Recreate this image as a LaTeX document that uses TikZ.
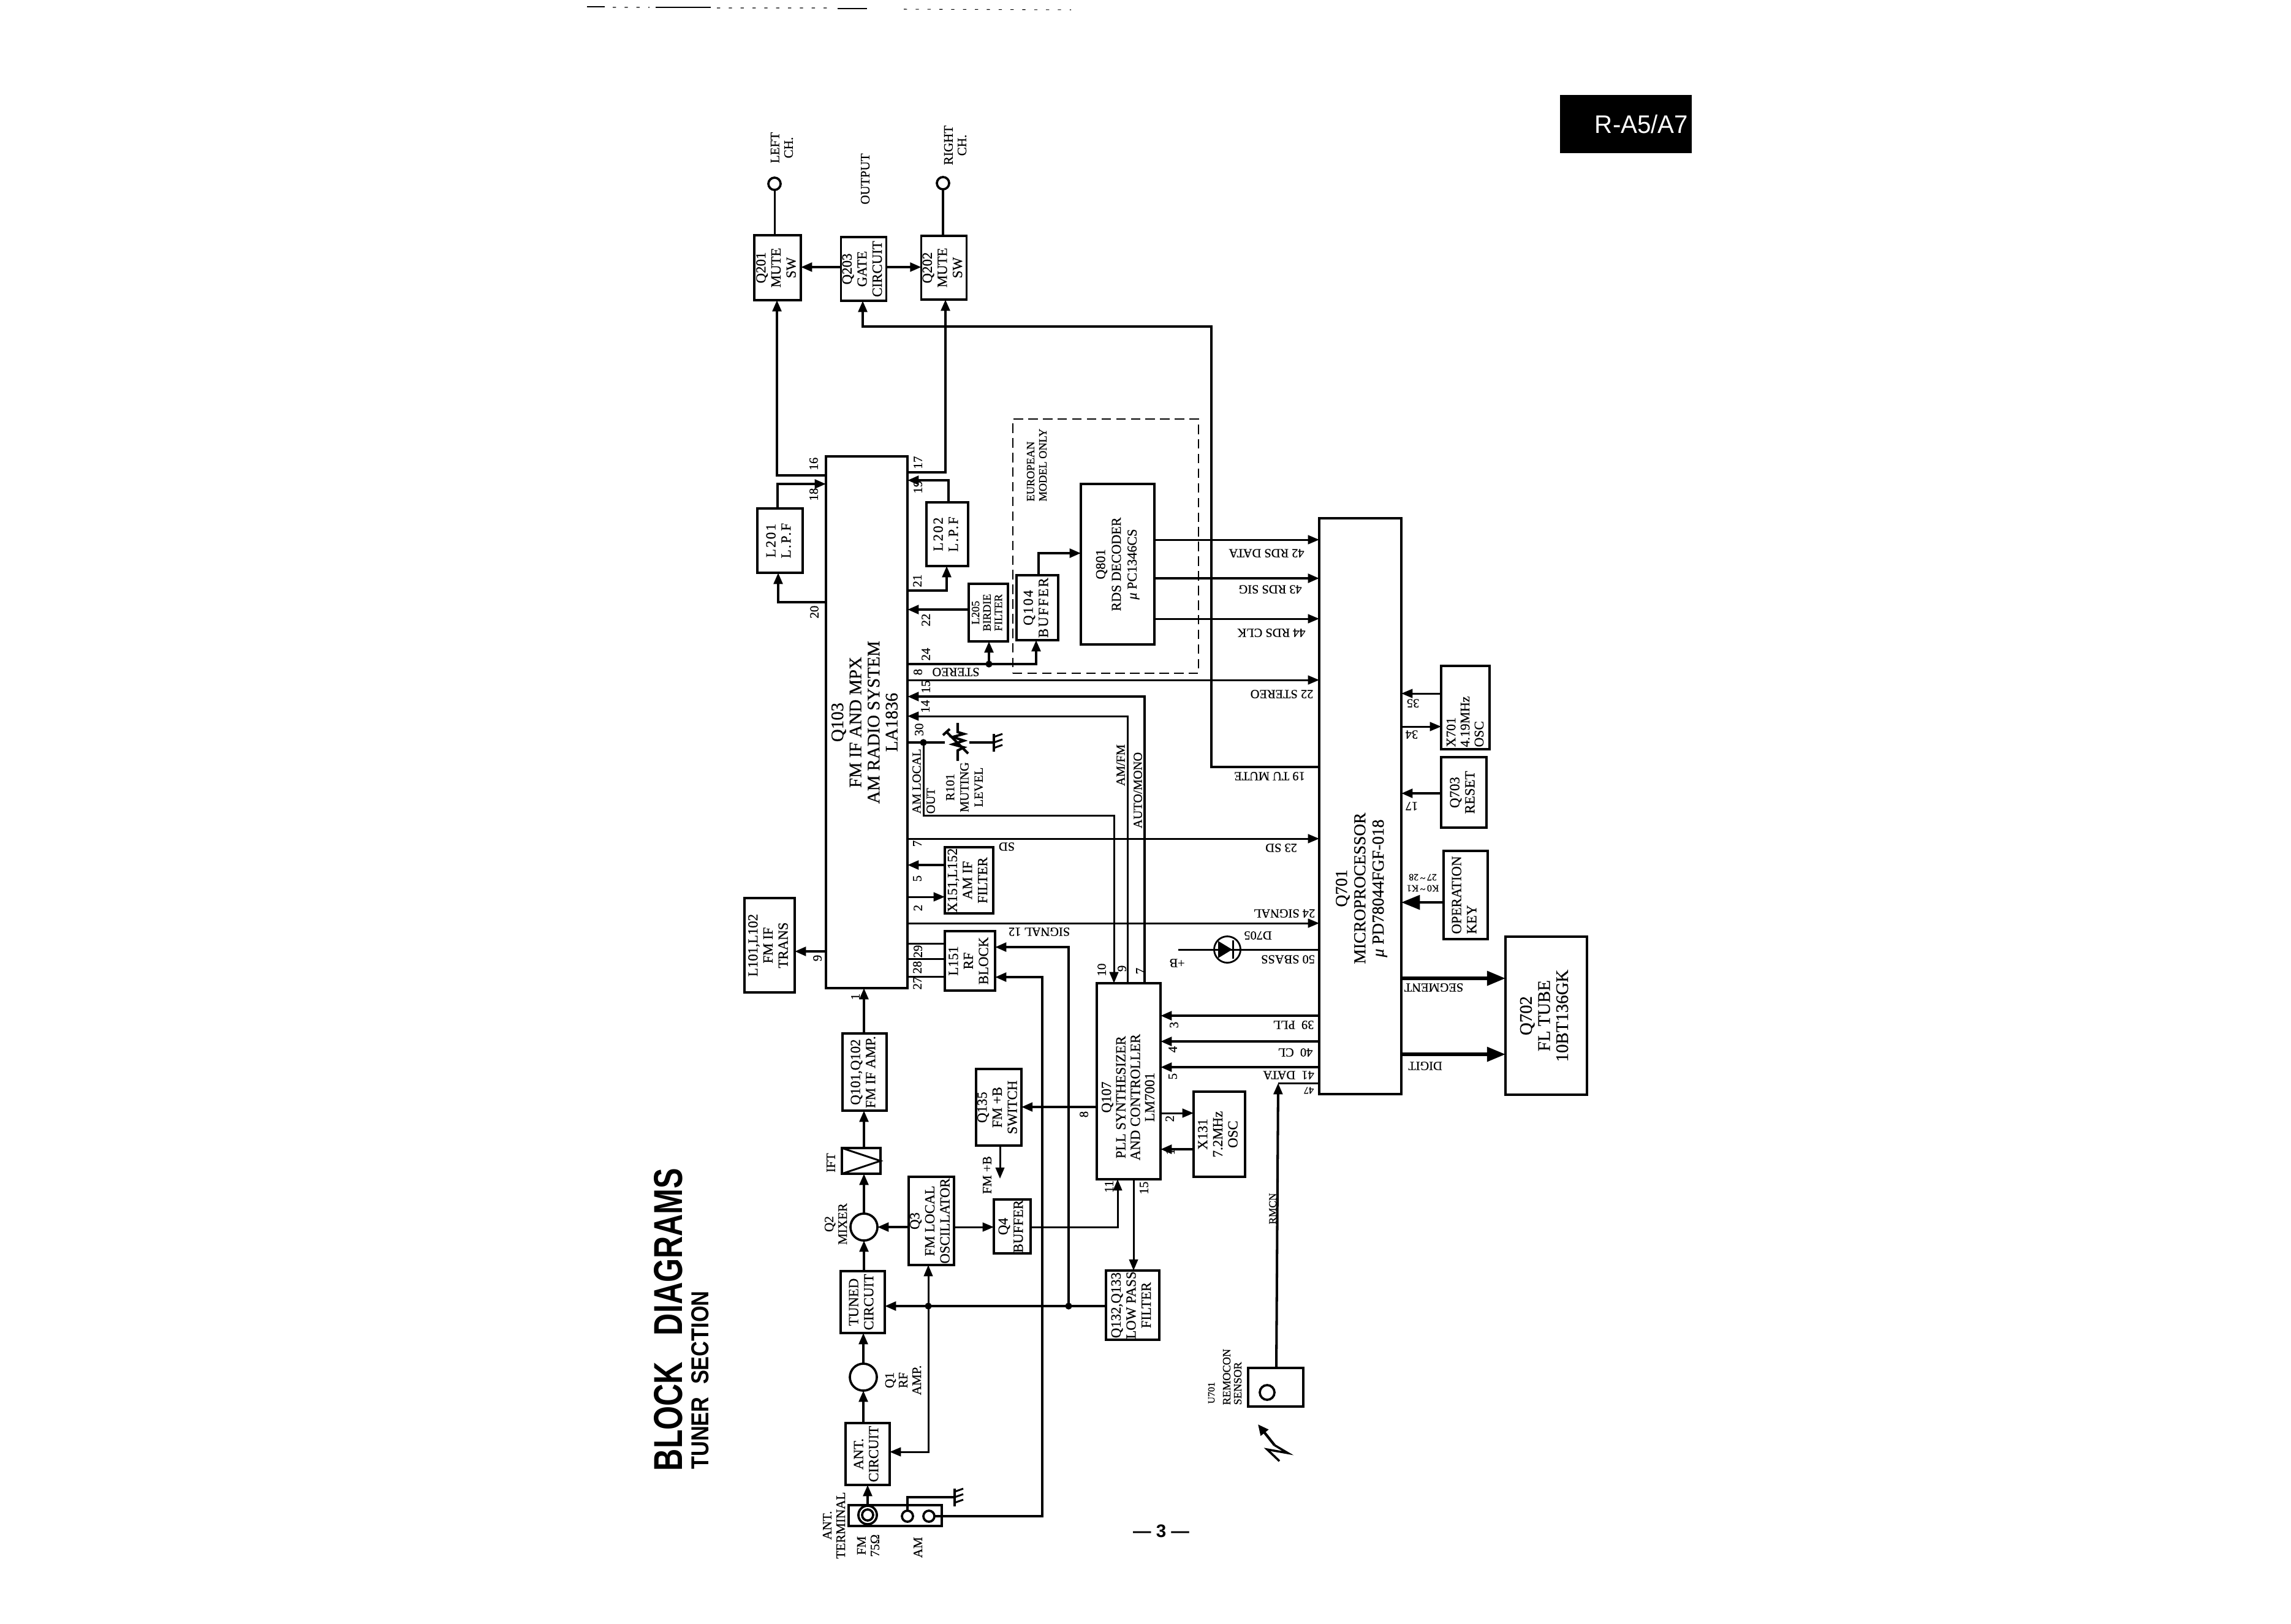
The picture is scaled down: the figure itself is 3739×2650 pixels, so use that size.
\documentclass[tikz,border=0pt]{standalone}
\usepackage{fontspec}
\usepackage{graphicx}
\usetikzlibrary{arrows.meta}
\setmainfont{Liberation Serif}[FakeBold=0.5]
\newfontfamily\headfont{Liberation Sans}

% line groups inside a block
\newcommand{\lns}[1]{\begin{tabular}{@{}c@{}}#1\end{tabular}}
\newcommand{\lnl}[1]{\begin{tabular}{@{}l@{}}#1\end{tabular}}
\newcommand{\tracked}[1]{{\addfontfeature{LetterSpace=10}#1}}

% a rectangular block given by its edges, text running along the long side
\newcommand{\blockbox}[7][]{%
  \node[blk,#1,minimum width={(#4-#3)*0.01cm},minimum height={(#6-#5)*0.01cm}]
    (#2) at ({(#3+#4)/2},{(#5+#6)/2}) {\rotatebox{90}{#7}};}

% earth symbol: vertical bar with three short strokes
\newcommand{\earth}[3]{%
  \coordinate (#1) at (#2,#3);
  \draw[wireb] (#2,#3-14) -- (#2,#3+15);
  \foreach \d in {-9,0,9} \draw[wire] (#2,#3+\d) -- (#2+14,#3+\d-5);}

\tikzset{
  blk/.style={draw,line width=1.05pt,inner sep=0pt,outer sep=0pt,align=center,font=\fontsize{6.5}{7}\selectfont},
  fbig/.style={font=\fontsize{8.2}{8.4}\selectfont},
  frds/.style={font=\fontsize{6.3}{7.3}\selectfont},
  fsml/.style={font=\fontsize{5.2}{5.3}\selectfont},
  wire/.style={line width=0.85pt},
  wireb/.style={line width=1.15pt},
  sig/.style={wire,-{Triangle[length=5.2pt,width=4.1pt]}},
  sigb/.style={wireb,-{Triangle[length=5.2pt,width=4.1pt]}},
  bus/.style={line width=1.6pt,-{Triangle[length=8.6pt,width=6.6pt]}},
  term/.style={draw,circle,line width=1.05pt,inner sep=0pt,outer sep=0pt},
  dot/.style={fill,circle,inner sep=0pt,outer sep=0pt,minimum size=3.2pt},
  vlab/.style={rotate=90,inner sep=0pt,align=center,font=\fontsize{6}{6.3}\selectfont},
  vsml/.style={vlab,font=\fontsize{5.2}{5.6}\selectfont},
  pinv/.style={rotate=90,inner sep=0pt,font=\fontsize{5.9}{6}\selectfont},
  ulab/.style={rotate=180,inner sep=0pt,font=\fontsize{5.8}{6}\selectfont},
}

\begin{document}
\begin{tikzpicture}[x=0.01cm,y=-0.01cm]
\useasboundingbox (0,0) rectangle (3739,2650);
\fill[white] (0,0) rectangle (3739,2650);

% page furniture
\draw[line width=0.4pt] (958,11) -- (987,11) (1070,12) -- (1160,12) (1367,14) -- (1415,14);
\draw[line width=0.3pt,dash pattern=on 1.5pt off 4pt] (1000,12) -- (1060,12) (1170,13) -- (1350,13) (1475,15) -- (1748,16);
\fill[black] (2546,155) rectangle (2761,250);
\node[inner sep=0pt,text=white] (tab) at (2679,203) {\resizebox{1.52cm}{0.3cm}{\headfont R-A5/A7}};
\node[rotate=90,inner sep=0pt] (title) at (1091,2154) {\resizebox{4.94cm}{0.46cm}{\headfont\bfseries BLOCK\hspace{0.85em}DIAGRAMS}};
\node[rotate=90,inner sep=0pt] (subtitle) at (1143,2253) {\resizebox{2.91cm}{0.28cm}{\headfont\bfseries TUNER\hspace{0.6em}SECTION}};
\node[inner sep=0pt,font=\fontsize{8.4}{9}\headfont\bfseries] (pageno) at (1895,2499) {— 3 —};

% RF front end
\blockbox{antterm}{1385}{1537}{2457}{2491}{}
\node[term,minimum size=26pt*0.33] (coax) at (1416,2473) {};
\node[term,minimum size=18pt*0.285] (coaxin) at (1416,2473) {};
\node[term,minimum size=18pt*0.285] (am1) at (1481,2475) {};
\node[term,minimum size=18pt*0.285] (am2) at (1516,2475) {};
\blockbox{ant}{1380}{1452}{2323}{2424}{\lns{ANT.\\CIRCUIT}}
\node[term,minimum size=44*0.2845pt] (q1) at (1409,2248) {};
\blockbox{tuned}{1372}{1444}{2075}{2176}{\lns{TUNED\\CIRCUIT}}
\node[term,minimum size=44*0.2845pt] (q2) at (1410,2003) {};
\blockbox{ift}{1374}{1437}{1874}{1916}{}
\draw[wire] (ift.north west) -- (ift.east) -- (ift.south west);
\blockbox{q101}{1375}{1447}{1687}{1813}{\lns{Q101,Q102\\FM IF AMP.}}
\blockbox{q3}{1483}{1557}{1921}{2065}{\lns{Q3\\FM LOCAL\\OSCILLATOR}}
\blockbox{q4}{1622}{1682}{1958}{2046}{\lns{Q4\\BUFFER}}
\blockbox{q135}{1595}{1665}{1745}{1870}{\lns{Q135\\FM +B\\SWITCH}}
\blockbox{q132}{1805}{1892}{2074}{2187}{\lns{Q132,Q133\\LOW PASS\\FILTER}}
\blockbox{q107}{1790}{1894}{1605}{1925}{}
\node[vlab,font=\fontsize{6.5}{6.7}\selectfont] (q107text) at (1841,1791) {Q107\\PLL SYNTHESIZER\\AND CONTROLLER\\LM7001};
\blockbox{x131}{1948}{2032}{1782}{1921}{\lns{X131\\7.2MHz\\OSC}}
\blockbox{u701}{2037}{2127}{2233}{2296}{}
\node[term,minimum size=24*0.2845pt] (u701eye) at (2068,2273) {};

% IF and multiplex section
\blockbox[fbig]{q103}{1348}{1481}{745}{1613}{\lns{Q103\\FM IF AND MPX\\AM RADIO SYSTEM\\LA1836}}
\blockbox{l101}{1215}{1297}{1466}{1620}{\lns{L101,L102\\FM IF\\TRANS}}
\blockbox{x151}{1542}{1621}{1383}{1491}{\lns{X151,L152\\AM IF\\FILTER}}
\blockbox{l151}{1542}{1624}{1520}{1617}{\lns{L151\\RF\\BLOCK}}
\blockbox{l201}{1236}{1310}{830}{935}{\lns{\tracked{L201}\\\tracked{L.P.F}}}
\blockbox{l202}{1512}{1580}{820}{924}{\lns{\tracked{L202}\\\tracked{L.P.F}}}
\blockbox[fsml]{l205}{1581}{1645}{953}{1047}{\lns{L205\\BIRDIE\\FILTER}}
\blockbox{q104}{1659}{1727}{939}{1045}{\lns{\tracked{Q104}\\\tracked{BUFFER}}}
\blockbox[frds]{q801}{1764}{1884}{790}{1052}{\lns{Q801\\RDS DECODER\\{\itshape μ} PC1346CS}}
\node[draw,line width=0.8pt,dash pattern=on 4.4pt off 2.4pt,inner sep=0pt,outer sep=0pt,
  minimum width={303*0.01cm},minimum height={415*0.01cm}] (eubox) at (1804.5,891.5) {};

% audio output
\blockbox{q201}{1231}{1307}{384}{490}{\lns{Q201\\MUTE\\SW}}
\blockbox{q203}{1373}{1446}{387}{491}{\lns{Q203\\GATE\\CIRCUIT}}
\blockbox{q202}{1506}{1575}{385}{489}{\lns{Q202\\MUTE\\SW}}
\node[term,minimum size=20*0.2845pt] (lout) at (1264,300) {};
\node[term,minimum size=20*0.2845pt] (rout) at (1539,299) {};

% controller and display
\blockbox{q701}{2153}{2287}{846}{1786}{}
\node[vlab,font=\fontsize{7.8}{8.5}\selectfont] (q701text) at (2222,1450) {Q701\\MICROPROCESSOR\\{\itshape μ} PD78044FGF-018};
\blockbox[fbig]{q702}{2457}{2590}{1529}{1787}{\lns{Q702\\FL TUBE\\10BT136GK}}
\blockbox{x701}{2352}{2431}{1087}{1223}{}
\node[vlab,align=left,font=\fontsize{6.2}{6.5}\selectfont] (x701text) at (2391,1178) {X701\\4.19MHz\\OSC};
\blockbox{q703}{2352}{2426}{1236}{1351}{\lns{Q703\\RESET}}
\blockbox{opkey}{2356}{2428}{1389}{1533}{\lnl{OPERATION\\KEY}}
\node[term,line width=0.8pt,minimum size=43*0.2845pt] (d705) at (2003,1550) {};

% front end signal path
\draw[sigb] (coax.north) -- (coax.north |- ant.south);
\draw[sigb] (q1.south |- ant.north) -- (q1.south);
\draw[sigb] (q1.north) -- (q1.north |- tuned.south);
\draw[sigb] (q2.south |- tuned.north) -- (q2.south);
\draw[sigb] (q2.north) -- (q2.north |- ift.south);
\draw[sigb] (q2.north |- ift.north) -- (q2.north |- q101.south);
\draw[sigb] (q2.north |- q101.north) -- (q2.north |- q103.south);
\draw[sigb] (q3.west |- q2.east) -- (q2.east);
\draw[sig] (q3.east |- q2.east) -- (q4.west |- q2.east);
\draw[sig] (q4.east |- q2.east) -| (1824,0 |- q107.south);
\coordinate (tunev) at (1515,2132);
\coordinate (tunel) at (1744,2132);
\draw[sigb] (q132.west |- tunev) -- (tuned.east |- tunev);
\draw[sig] (tunev) -- (tunev |- q3.south);
\draw[sig] (tunev) |- (ant.east |- 0,2370);
\draw[sigb] (tunel) |- (l151.east |- 0,1546);
\node[dot] (dotv) at (tunev) {};
\node[dot] (dotl) at (tunel) {};
\draw[sigb] (am2.east) -- (1701,0 |- am2.east) |- (l151.east |- 0,1595);
\earth{gndant}{1558}{2444}
\draw[wireb] (am1.north) |- (gndant);

% PLL connections
\draw[sigb] (q107.west |- 0,1807) -- (q135.east |- 0,1807);
\coordinate (fmb) at (1632,1924);
\draw[sig] (fmb |- q135.south) -- (fmb);
\draw[sig] (1850,0 |- q107.south) -- (1850,0 |- q132.north);
\draw[sig] (q107.east |- 0,1817) -- (x131.west |- 0,1817);
\draw[sigb] (x131.west |- 0,1876) -- (q107.east |- 0,1876);
\draw[sigb] (q701.west |- 0,1658) -- (q107.east |- 0,1658);
\draw[sigb] (q701.west |- 0,1700) -- (q107.east |- 0,1700);
\draw[sigb] (q701.west |- 0,1742) -- (q107.east |- 0,1742);
\coordinate (rmcn) at (2086,1768);
\draw[sigb] (2083,0 |- u701.north) -- (rmcn);
\draw[wire] (rmcn) -- (q701.west |- rmcn);

% IF chip, upper side
\draw[sigb] (q103.west |- 0,1553) -- (l101.east |- 0,1553);
\draw[sigb] (x151.west |- 0,1412) -- (q103.east |- 0,1412);
\draw[sig] (q103.east |- 0,1464) -- (x151.west |- 0,1464);
\draw[wire] (q103.east |- 0,1540) -- (l151.west |- 0,1540);
\draw[wire] (q103.east |- 0,1565) -- (l151.west |- 0,1565);
\draw[wire] (q103.east |- 0,1594) -- (l151.west |- 0,1594);
\draw[sig] (q103.east |- 0,1369) -- (q701.west |- 0,1369);
\draw[sig] (q103.east |- 0,1507) -- (q701.west |- 0,1507);
\draw[sig] (q103.east |- 0,1110) -- (q701.west |- 0,1110);

\draw[sigb] (q103.west |- 0,776) -| (1268,0 |- q201.south);
\draw[sigb] (1269,0 |- l201.north) |- (q103.west |- 0,790);
\draw[sigb] (q103.west |- 0,983) -| (1270,0 |- l201.south);
\draw[sigb] (q103.east |- 0,771) -| (1543,0 |- q202.south);
\draw[sigb] (1548,0 |- l202.north) |- (q103.east |- 0,784);
\draw[sigb] (q103.east |- 0,964) -| (1545,0 |- l202.south);
\draw[sigb] (l205.west |- 0,995) -- (q103.east |- 0,995);
\coordinate (birdie) at (1614,1084);
\draw[sigb] (q103.east |- birdie) -| (1691,0 |- q104.south);
\draw[sigb] (birdie) -- (birdie |- l205.south);
\node[dot] (dotb) at (birdie) {};
\draw[sigb] (1695,0 |- q104.north) |- (q801.west |- 0,903);
\draw[sig] (q801.east |- 0,881) -- (q701.west |- 0,881);
\draw[sigb] (q801.east |- 0,944) -- (q701.west |- 0,944);
\draw[sig] (q801.east |- 0,1010) -- (q701.west |- 0,1010);
\draw[sigb] (1868,0 |- q107.north) |- (q103.east |- 0,1137);
\draw[sig] (1840,0 |- q107.north) |- (q103.east |- 0,1169);

% muting level control and AM local output
\coordinate (rwire) at (1542,1212);
\coordinate (amout) at (1818,1331);
\earth{gndmute}{1622}{1212}
\draw[wireb] (q103.east |- rwire) -- (rwire);
\draw[wireb] (1582,1212) -- (gndmute);
\node[dot] (dotr) at (1507,1212) {};
\draw[sig] (dotr.center) |- (amout) -- (amout |- q107.north);
\draw[wireb] (1563,1180) -- (1563,1195) -- (1573,1198) -- (1555,1203) -- (1573,1209) -- (1555,1215) -- (1573,1220) -- (1563,1225) -- (1563,1242);
\draw[wireb] (1545,1195) -- (1580,1230) (1539,1200) -- (1550,1190);

% outputs and muting
\draw[sigb] (q203.west |- 0,436) -- (q201.east |- 0,436);
\draw[sigb] (q203.east |- 0,436) -- (q202.west |- 0,436);
\draw[wire] (lout.south) -- (lout.south |- q201.north);
\draw[wireb] (rout.south) -- (rout.south |- q202.north);
\coordinate (muteturn) at (1977,533);
\draw[sigb] (q701.west |- 0,1252) -| (muteturn) -| (1408,0 |- q203.south);

% microprocessor, key side
\draw[sig] (x701.west |- 0,1132) -- (q701.east |- 0,1132);
\draw[sig] (q701.east |- 0,1186) -- (x701.west |- 0,1186);
\draw[sigb] (q703.west |- 0,1295) -- (q701.east |- 0,1295);
\draw[bus,line width=1.3pt] (opkey.west |- 0,1473) -- (q701.east |- 0,1473);
\draw[bus] (q701.east |- 0,1597) -- (q702.west |- 0,1597);
\draw[bus] (q701.east |- 0,1721) -- (q702.west |- 0,1721);

% indicator LED
\coordinate (ledsupply) at (1923,1550);
\draw[wire] (ledsupply) -- (q701.west |- ledsupply);
\fill (1988,1536) -- (2011,1550) -- (1988,1564) -- cycle;
\draw[wire] (2012,1535) -- (2012,1565);

% labels beside the front end
\node[vlab] (lblant) at (1361,2490) {ANT.\\TERMINAL};
\node[vlab] (lblfm) at (1417,2523) {FM\\75Ω};
\node[vlab] (lblam) at (1498,2526) {AM};
\node[vlab] (lblq1) at (1474,2253) {Q1\\RF\\AMP.};
\node[vlab] (lblq2) at (1364,1998) {Q2\\MIXER};
\node[vlab] (lblift) at (1356,1898) {IFT};
\node[vlab] (lblfmb) at (1611,1918) {FM +B};
\node[vlab,font=\fontsize{4.9}{5}\selectfont] (lblrmcn) at (2077,1973) {RMCN};
\node[vsml,anchor=west,font=\fontsize{4.5}{5}\selectfont] (lblu) at (1977,2292) {U701};
\node[vsml,anchor=west] (lblrem) at (2002,2294) {REMOCON};
\node[vsml,anchor=west] (lblsen) at (2020,2294) {SENSOR};

% remote control beam
\coordinate (beamtip) at (2053,2325);
\coordinate (beamtail) at (2080,2359);
\draw[line width=1.2pt,-{Triangle[length=5pt,width=4.4pt]}] (beamtail) -- (beamtip);
\draw[line width=1pt] (beamtail) -- (2102,2372) -- (2068,2366) -- (2088,2385);

% labels around the IF chip
\node[vlab,anchor=west,font=\fontsize{5.8}{6}\selectfont] (lblam1) at (1496,1329) {AM LOCAL};
\node[vlab,anchor=west,font=\fontsize{5.8}{6}\selectfont] (lblam2) at (1519,1329) {OUT};
\node[vlab,font=\fontsize{5.8}{6.6}\selectfont] (lblr101) at (1574,1285) {R101\\MUTING\\LEVEL};
\node[vlab,font=\fontsize{5.8}{6}\selectfont] (lblamfm) at (1829,1249) {AM/FM};
\node[vlab,font=\fontsize{5.8}{6}\selectfont] (lblauto) at (1857,1290) {AUTO/MONO};
\node[vsml,anchor=west] (lbleu1) at (1682,819) {EUROPEAN};
\node[vsml,anchor=west] (lbleu2) at (1702,819) {MODEL ONLY};
\node[vlab] (lblleft) at (1276,241) {LEFT\\CH.};
\node[vlab] (lblright) at (1559,237) {RIGHT\\CH.};
\node[vlab] (lbloutput) at (1412,292) {OUTPUT};

% pin numbers along the vertical edges
\foreach \n/\t/\x/\y in {
  a/9/1334/1564, b/1/1396/1627, c/7/1497/1377, d/5/1497/1434, e/2/1498/1482,
  f/29/1498/1553, g/28/1497/1579, h/27/1497/1605, i/10/1798/1583, j/9/1831/1581,
  k/7/1861/1585, l/3/1916/1673, m/4/1914/1713, n/5/1914/1757, o/2/1909/1826,
  p/1/1910/1880, q/8/1769/1819, r/11/1810/1937, s/15/1867/1939, t/15/1511/1121,
  u/14/1510/1153, v/30/1500/1191, w/24/1511/1068, x/22/1511/1012, y/21/1497/948,
  z/19/1498/795, A/17/1498/755, B/16/1328/757, C/18/1328/807, D/20/1329/999,
  E/8/1498/1097}
  \node[pinv] (pin\n) at (\x,\y) {\t};

% labels printed upside down along the signal lines
\foreach \n/\t/\x/\y in {
  a/SD/1643/1382, b/SIGNAL 12/1696/1521, c/STEREO/1560/1097,
  d/42 RDS DATA/2067/903, e/43 RDS SIG/2073/962, f/44 RDS CLK/2075/1033,
  g/22 STEREO/2092/1133, h/19 TU MUTE/2072/1267, i/23 SD/2091/1384,
  j/24 SIGNAL/2096/1491, k/50 SBASS/2102/1566, l/D705/2053/1527,
  m/39~~PLL/2111/1673, n/40~~CL/2114/1718, o/41~~DATA/2103/1755,
  p/+B/1921/1572, q/35/2306/1148, r/34/2304/1199, s/17/2304/1316,
  t/SEGMENT/2340/1612, u/DIGIT/2326/1740}
  \node[ulab] (ul\n) at (\x,\y) {\t};
\node[ulab,font=\fontsize{4.6}{5}\selectfont] (ul47) at (2136,1780) {47};
\node[ulab,font=\fontsize{4.5}{5}\selectfont] (ulk1) at (2322,1450) {K0\,\raisebox{0.2ex}{\textasciitilde}\,K1};
\node[ulab,font=\fontsize{4.5}{5}\selectfont] (ulk2) at (2322,1432) {27\,\raisebox{0.2ex}{\textasciitilde}\,28};
\end{tikzpicture}
\end{document}
